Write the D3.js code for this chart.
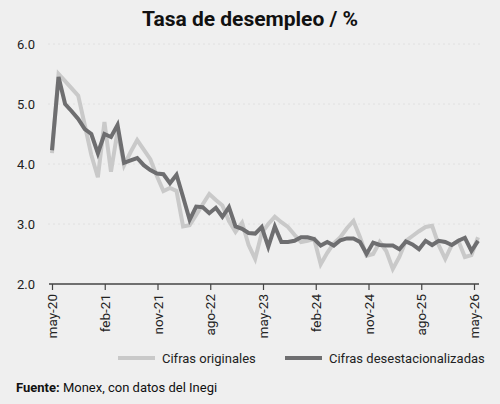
<!DOCTYPE html>
<html>
<head>
<meta charset="utf-8">
<script src="https://cdn.jsdelivr.net/npm/d3@7"></script>
<style>
  body { margin: 0; background: #efefef; }
  svg { display: block; font-family: Roboto, "Noto Sans", sans-serif; }
</style>
</head>
<body>
<div id="chart"></div>
<script>
// CONSTANTS
const width = 500,
  height = 404,
  margin = { top: 44, bottom: 120, left: 52, right: 22 };

// DATA (monthly points)
const originales = [
  4.18, 5.5, 5.38, 5.26, 5.14, 4.65, 4.15, 3.78, 4.7, 3.87,
  4.55, 3.98, 4.2, 4.4, 4.24, 4.08, 3.8, 3.55, 3.6, 3.55,
  2.96, 2.98, 3.15, 3.33, 3.5, 3.4, 3.31, 3.05, 2.87, 3.02,
  2.65, 2.42, 2.85, 3.0, 3.12, 3.03, 2.95, 2.82, 2.7, 2.72,
  2.75, 2.33, 2.52, 2.68, 2.78, 2.93, 3.05, 2.78, 2.47, 2.5,
  2.7, 2.55, 2.25, 2.45, 2.72, 2.8, 2.88, 2.95, 2.97, 2.65,
  2.42, 2.65, 2.72, 2.45, 2.48, 2.78
];
const desestacionalizadas = [
  4.23, 5.45, 5.0, 4.88, 4.75, 4.58, 4.5, 4.18, 4.5, 4.45,
  4.65, 4.02, 4.06, 4.1, 3.98, 3.9, 3.84, 3.83, 3.68, 3.82,
  3.45, 3.07, 3.29, 3.28, 3.18, 3.27, 3.12, 3.28, 2.96, 2.92,
  2.85, 2.84, 2.95, 2.62, 2.96, 2.7, 2.7, 2.72, 2.78, 2.78,
  2.75, 2.64, 2.7, 2.64, 2.73, 2.76, 2.76, 2.7, 2.5, 2.69,
  2.65, 2.64, 2.64, 2.58, 2.71, 2.66, 2.58, 2.72, 2.65, 2.72,
  2.7, 2.65, 2.72, 2.77, 2.55, 2.72
];
const tickLabels = ["may-20", "feb-21", "nov-21", "ago-22", "may-23", "feb-24", "nov-24", "ago-25", "may-26"];
const yTicks = [2, 3, 4, 5, 6];
const seriesNames = ["Cifras originales", "Cifras desestacionalizadas"];
const colors = ["#c9c9c9", "#6e6e70"];

const svg = d3.select("#chart")
  .append("svg")
  .attr("width", width)
  .attr("height", height);

// SCALES
const x = d3.scaleLinear()
  .domain([0, originales.length - 1])
  .range([margin.left, width - margin.right]);

// tick labels are spaced evenly along the axis
const xLabel = d3.scalePoint()
  .domain(tickLabels)
  .range([margin.left, 474]);

const y = d3.scaleLinear()
  .domain([2, 6])
  .range([height - margin.bottom, margin.top]);

// title
svg.append("text")
  .attr("x", width / 2)
  .attr("y", 26)
  .attr("text-anchor", "middle")
  .attr("font-size", 21)
  .attr("font-weight", "bold")
  .attr("fill", "#111")
  .text("Tasa de desempleo / %");

// gridlines
svg.append("g")
  .selectAll("line")
  .data(yTicks.filter(d => d > 2))
  .join("line")
  .attr("x1", 48)
  .attr("x2", 480)
  .attr("y1", d => y(d))
  .attr("y2", d => y(d))
  .attr("stroke", "#e0e0e0")
  .attr("stroke-width", 1)
  .attr("stroke-dasharray", "2,3");

// y axis labels
svg.append("g")
  .selectAll("text")
  .data(yTicks)
  .join("text")
  .attr("x", 35)
  .attr("y", d => y(d))
  .attr("dy", "0.35em")
  .attr("text-anchor", "end")
  .attr("font-size", 13)
  .attr("fill", "#222")
  .text(d => d3.format(".1f")(d));

// x axis
const xAxis = svg.append("g")
  .attr("transform", `translate(0, ${y(2)})`)
  .call(d3.axisBottom(xLabel).tickSize(6).tickSizeOuter(0).tickPadding(4));

xAxis.select(".domain")
  .attr("d", `M49,0H479`)
  .attr("stroke", "#444")
  .attr("stroke-width", 1.5);
xAxis.selectAll(".tick line").attr("stroke", "#444").attr("stroke-width", 1.2);
xAxis.selectAll(".tick text")
  .attr("font-family", "Roboto, sans-serif")
  .attr("font-size", 13.5)
  .attr("fill", "#222")
  .attr("transform", "rotate(-90)")
  .attr("text-anchor", "end")
  .attr("x", -10)
  .attr("y", 0)
  .attr("dy", "0.35em");

// lines
const line = d3.line()
  .x((d, i) => x(i))
  .y(d => y(d));

svg.selectAll("path.series")
  .data([originales, desestacionalizadas])
  .join("path")
  .attr("class", "series")
  .attr("fill", "none")
  .attr("stroke", (d, i) => colors[i])
  .attr("stroke-width", 4)
  .attr("stroke-linejoin", "miter")
  .attr("d", line);

// legend
const legendX = [118, 285];
const legend = svg.append("g")
  .selectAll("g")
  .data(seriesNames)
  .join("g")
  .attr("transform", (d, i) => `translate(${legendX[i]}, 358)`);

legend.append("line")
  .attr("x1", 0)
  .attr("x2", 37)
  .attr("stroke", (d, i) => colors[i])
  .attr("stroke-width", 4);

legend.append("text")
  .attr("x", 44)
  .attr("dy", "0.35em")
  .attr("font-size", 13)
  .attr("fill", "#222")
  .text(d => d);

// source
const src = svg.append("text")
  .attr("x", 16)
  .attr("y", 392)
  .attr("font-size", 13)
  .attr("fill", "#111");
src.append("tspan").attr("font-weight", "bold").text("Fuente:");
src.append("tspan").text(" Monex, con datos del Inegi");
</script>
</body>
</html>
